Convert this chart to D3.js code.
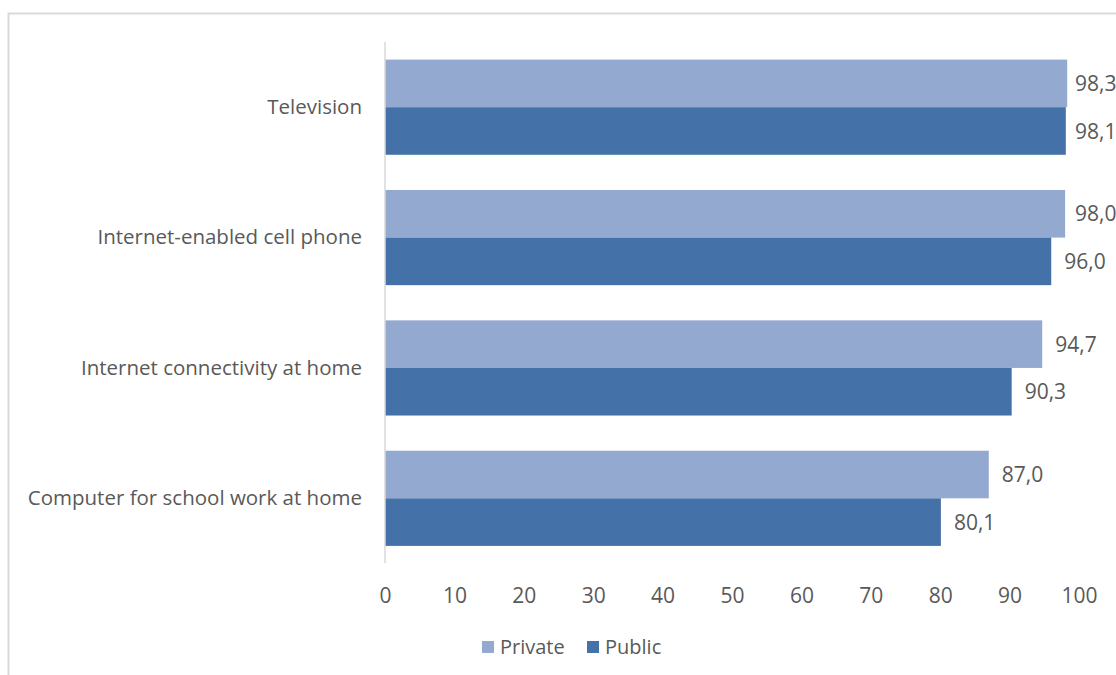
<!DOCTYPE html>
<html>
<head>
<meta charset="utf-8">
<script src="https://cdn.jsdelivr.net/npm/d3@7"></script>
<style>
  html, body { margin: 0; padding: 0; background: #fff; }
  svg { display: block; }
  text { font-family: "Open Sans", "Noto Sans", sans-serif; fill: #595959; }
</style>
</head>
<body>
<svg id="chart" width="1116" height="675"></svg>
<script>
const categories = ["Television", "Internet-enabled cell phone", "Internet connectivity at home", "Computer for school work at home"];
const seriesNames = ["Private", "Public"];
const privateValues = [98.3, 98.0, 94.7, 87.0];
const publicValues = [98.1, 96.0, 90.3, 80.1];
const valueLabels = {Private: ["98,3", "98,0", "94,7", "87,0"], Public: ["98,1", "96,0", "90,3", "80,1"]};
const xTicks = [0, 10, 20, 30, 40, 50, 60, 70, 80, 90, 100];
const colors = {Private: "#94A9D0", Public: "#4472A8"};

const svg = d3.select("#chart");

// outer chart border (extends beyond the cropped image)
svg.append("rect").attr("x", 8.5).attr("y", 13.5).attr("width", 1200).attr("height", 700)
  .attr("fill", "#fff").attr("stroke", "#D9D9D9").attr("stroke-width", 2);

const x = d3.scaleLinear().domain([0, 100]).range([385, 1079]);
const y = d3.scaleBand().domain(categories).range([42, 563.5]).paddingInner(0.27).paddingOuter(0.135);
const ySub = d3.scaleBand().domain(seriesNames).range([0, y.bandwidth()]);

const data = categories.map((c, i) => ({cat: c, Private: privateValues[i], Public: publicValues[i], i}));

const g = svg.append("g");
data.forEach(d => {
  seriesNames.forEach(s => {
    g.append("rect")
      .attr("x", x(0))
      .attr("y", y(d.cat) + ySub(s))
      .attr("width", x(d[s]) - x(0))
      .attr("height", ySub.bandwidth())
      .attr("fill", colors[s]);
    g.append("text")
      .attr("x", Math.min(x(d[s]) + 13, 1075))
      .attr("y", y(d.cat) + ySub(s) + ySub.bandwidth() / 2)
      .attr("dy", "0.36em")
      .attr("font-size", 21)
      .text(valueLabels[s][d.i]);
  });
});

// category axis line
svg.append("line").attr("x1", 385).attr("x2", 385).attr("y1", 42).attr("y2", 563)
  .attr("stroke", "#D9D9D9").attr("stroke-width", 1.5);

// category labels
const yAxis = d3.axisLeft(y).tickSize(0).tickPadding(23);
const ya = svg.append("g").attr("transform", "translate(385,0)").call(yAxis);
ya.select(".domain").remove();
ya.selectAll("text").attr("font-size", 20.5).attr("fill", "#595959")
  .style("font-family", "'Open Sans', sans-serif");

// x axis tick labels
const xAxis = d3.axisBottom(x).tickValues(xTicks).tickSize(0).tickPadding(0).tickFormat(d3.format("d"));
const xa = svg.append("g").attr("transform", "translate(0,595)").call(xAxis);
xa.select(".domain").remove();
xa.selectAll("text").attr("font-size", 21).attr("fill", "#595959").attr("dy", "0.36em").attr("y", 0)
  .style("font-family", "'Open Sans', sans-serif");

// legend
const legend = svg.append("g");
const legendItems = [{name: "Private", x: 482}, {name: "Public", x: 587}];
legendItems.forEach(it => {
  legend.append("rect").attr("x", it.x).attr("y", 641).attr("width", 12).attr("height", 12).attr("fill", colors[it.name]);
  legend.append("text").attr("x", it.x + 18).attr("y", 647).attr("dy", "0.36em").attr("font-size", 20).text(it.name);
});
</script>
</body>
</html>
